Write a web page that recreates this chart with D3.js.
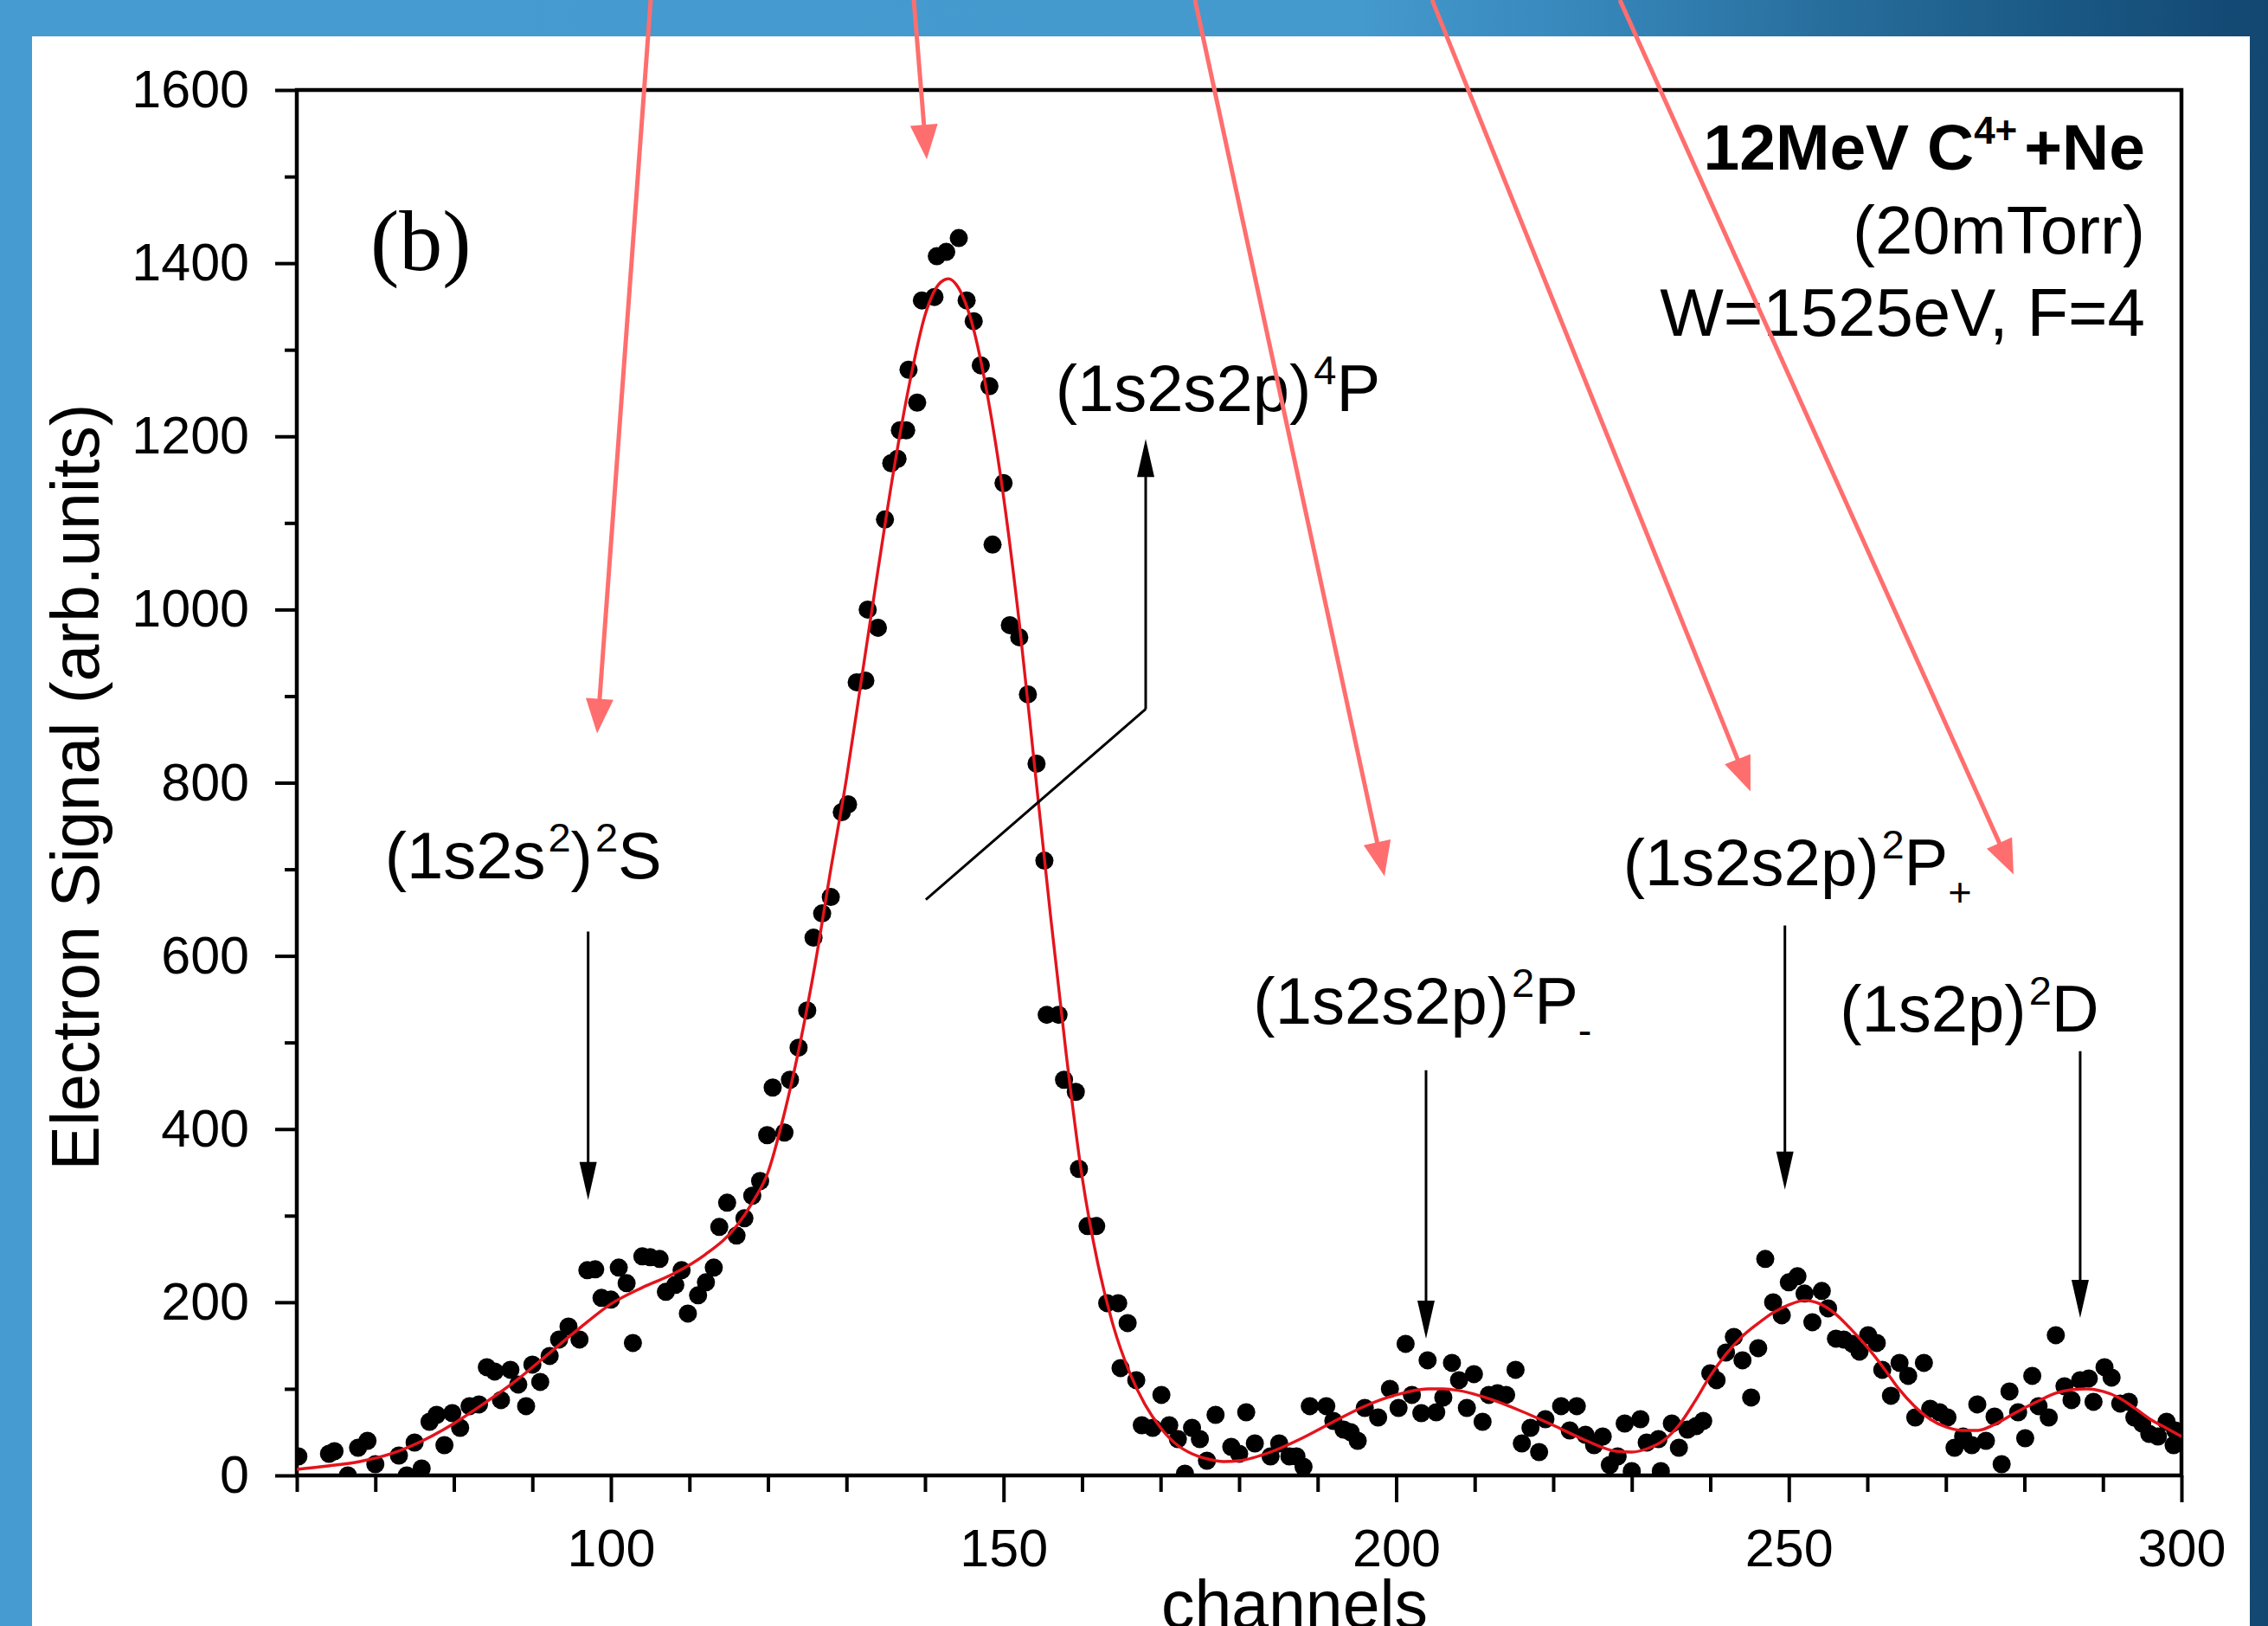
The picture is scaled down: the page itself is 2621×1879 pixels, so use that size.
<!DOCTYPE html>
<html>
<head>
<meta charset="utf-8">
<title>12MeV C4+ + Ne electron spectrum</title>
<script src="https://d3js.org/d3.v7.min.js"></script>
<style>
  html, body { margin: 0; padding: 0; background: #fff; }
  svg { display: block; }
  text { font-family: "Liberation Sans", Arial, sans-serif; fill: #000; }
</style>
</head>
<body>
<div id="chart"></div>
<script>
// measured points (channel, electron signal)
var channels = [60.2, 64.1, 64.8, 66.5, 67.8, 69.0, 70.0, 73.0, 74.0, 75.0, 75.9, 76.9, 77.8, 78.8, 79.8, 80.8,
  82.0, 83.2, 84.2, 85.2, 86.0, 87.2, 88.2, 89.2, 90.0, 91.0, 92.2, 93.4, 94.6, 96.0, 97.0, 98.0, 98.8, 100.0,
  101.0, 102.0, 102.8, 104.0, 105.0, 106.2, 107.0, 108.2, 109.0, 109.8, 111.1, 112.1, 113.1, 113.8, 114.8,
  116.0, 117.0, 118.0, 119.0, 119.9, 120.6, 122.1, 122.8, 123.9, 125.0, 125.8, 126.9, 128.0, 129.4, 130.2,
  131.3, 132.4, 132.7, 134.0, 134.9, 135.7, 136.5, 136.8, 137.6, 137.9, 139.0, 139.6, 141.2, 141.5, 142.7,
  144.3, 145.3, 146.2, 147.1, 148.2, 148.6, 150.0, 150.8, 152.0, 153.1, 154.2, 155.2, 155.5, 157.0, 157.7,
  159.2, 159.6, 160.7, 161.8, 163.2, 164.6, 164.9, 165.8, 166.9, 167.6, 169.0, 170.1, 171.1, 172.2, 173.1,
  174.0, 175.0, 175.9, 177.0, 179.0, 180.0, 180.9, 182.0, 184.0, 185.1, 186.4, 187.3, 188.2, 189.0, 191.1,
  192.0, 193.3, 194.2, 195.1, 196.0, 197.7, 199.2, 200.3, 201.2, 202.0, 203.2, 204.0, 205.1, 206.0, 207.1,
  208.0, 209.0, 209.9, 211.0, 211.8, 212.9, 214.0, 215.2, 216.0, 217.1, 218.2, 219.0, 221.0, 222.1, 223.0,
  224.1, 225.2, 226.3, 227.2, 228.2, 229.1, 230.0, 231.1, 231.9, 233.4, 233.7, 235.1, 236.0, 237.1, 238.2,
  239.1, 240.0, 240.8, 242.0, 243.0, 244.1, 245.2, 246.1, 247.0, 248.0, 249.1, 250.0, 251.1, 252.0, 253.0,
  254.2, 255.0, 256.0, 257.0, 258.1, 259.0, 260.1, 261.2, 261.9, 263.0, 264.1, 265.2, 266.1, 267.2, 268.0,
  269.2, 270.2, 271.1, 272.2, 273.3, 274.0, 275.1, 276.2, 277.1, 278.1, 279.2, 280.1, 281.0, 281.8, 283.1,
  284.0, 285.1, 286.0, 287.1, 288.2, 288.8, 290.2, 291.1, 292.2, 293.3, 294.0, 295.0, 295.9, 297.0, 298.1,
  299.0, 299.2];
var signal = [22, 25, 28, 0, 32, 40, 13, 23, 0, 38, 8, 62, 70, 35, 72, 55,
  80, 82, 125, 120, 87, 122, 105, 80, 128, 108, 138, 157, 172, 157, 237, 238, 205, 203,
  240, 222, 153, 253, 252, 250, 212, 220, 237, 187, 208, 223, 240, 287, 315,
  277, 297, 323, 340, 393, 448, 396, 457, 494, 537, 621, 649, 668, 766, 775,
  916, 918, 1000, 979, 1104, 1169, 1174, 1207, 1207, 1277, 1239, 1357, 1361, 1408, 1413,
  1429, 1357, 1333, 1282, 1258, 1075, 1146, 982, 968, 902, 822, 710, 532, 532, 457,
  443, 354, 288, 288, 199, 199, 124, 176, 110, 58, 55, 93, 58, 42, 2,
  55, 42, 17, 70, 33, 25, 73, 37, 22, 37, 22, 22, 10, 80, 80,
  63, 53, 50, 40, 78, 67, 100, 78, 152, 93, 72, 133, 73, 90, 130,
  110, 78, 117, 62, 93, 95, 93, 122, 37, 55, 27, 65, 80, 52, 80,
  47, 35, 45, 12, 22, 60, 5, 65, 38, 42, 5, 60, 32, 53, 57,
  63, 118, 110, 142, 160, 133, 90, 147, 250, 200, 185, 223, 230, 210, 177,
  213, 193, 158, 157, 152, 143, 162, 153, 122, 92, 130, 115, 67, 130, 77,
  73, 67, 32, 45, 35, 82, 40, 68, 13, 97, 73, 43, 115, 80, 67,
  162, 103, 87, 110, 112, 85, 125, 113, 83, 85, 67, 60, 48, 45, 62,
  35, 52];

// fitted curve
var fitChannels = [60, 64, 68, 72, 76, 80, 84, 88, 92, 96, 100, 104, 108, 112, 116, 118, 120, 122, 124, 126,
  128, 130, 132, 134, 136, 138, 140, 142, 143, 144, 146, 148, 150, 152, 154, 156, 158, 160, 162, 164, 166,
  168, 170, 172, 174, 176, 178, 180, 184, 188, 192, 196, 200, 204, 206, 208, 212, 216, 220, 224, 228, 230,
  232, 234, 236, 238, 240, 242, 244, 246, 248, 250, 252, 254, 256, 258, 260, 262, 264, 266, 268, 270, 272,
  274, 276, 278, 280, 282, 284, 286, 288, 290, 292, 294, 296, 298, 300];
var fitSignal = [7, 11, 16, 25, 40, 60, 84, 110, 140, 170, 198, 217, 233, 255, 288, 315, 350, 415, 495, 590,
  700, 805, 925, 1045, 1160, 1260, 1340, 1378, 1382, 1375, 1330, 1245, 1130, 985, 815, 645, 485, 345, 245, 172, 120,
  82, 55, 36, 25, 19, 16, 17, 27, 43, 62, 80, 93, 100, 100, 98, 88, 74, 58, 41, 28, 27,
  31, 40, 58, 85, 115, 140, 160, 175, 188, 197, 202, 198, 186, 168, 148, 125, 100, 80, 65, 56, 52,
  52, 58, 68, 78, 87, 95, 99, 100, 97, 90, 78, 65, 55, 45];

var xMajorTicks = [100, 150, 200, 250, 300];
var xMinorTicks = [60, 70, 80, 90, 110, 120, 130, 140, 160, 170, 180, 190, 210, 220, 230, 240, 260, 270, 280, 290];
var yMajorTicks = [0, 200, 400, 600, 800, 1000, 1200, 1400, 1600];
var yMinorTicks = [100, 300, 500, 700, 900, 1100, 1300, 1500];

// state labels: text pieces ("sup"/"sub" = raised / lowered), anchor in data units
var labelParts = [
  [["(1s2s"], ["2", "sup"], [")"], ["2", "sup"], ["S"]],
  [["(1s2s2p)"], ["4", "sup"], ["P"]],
  [["(1s2s2p)"], ["2", "sup"], ["P"], ["-", "sub"]],
  [["(1s2s2p)"], ["2", "sup"], ["P"], ["+", "sub"]],
  [["(1s2p)"], ["2", "sup"], ["D"]]
];
var labelChannel = [71.2, 156.6, 181.8, 228.9, 256.5];
var labelValue = [690, 1229, 522, 682, 513];

// black arrows: channel, start value, tip value
var arrowChannel = [97.1, 168.1, 203.8, 249.5, 287.1];
var arrowFrom = [628, 885, 468, 635, 490];
var arrowTo = [318, 1197, 158, 330, 182];
// leader from the (1s2s2p)4P arrow to the main peak
var leaderFrom = [168.1, 885];
var leaderTo = [140.1, 665];

// red overlay arrows (from above the frame down to the peaks)
var redFromCh = [105.07, 138.57, 174.38, 204.57, 228.48];
var redFromVal = [1704, 1704, 1704, 1704, 1704];
var redToCh = [98.24, 140.22, 198.51, 245.12, 278.62];
var redToVal = [857, 1520, 692, 790, 694];

var infoLines = ["(20mTorr)", "W=1525eV, F=4"];

var W = 2621, H = 1879;
var plot = { left: 343, right: 2521, top: 104, bottom: 1705 };

var x = d3.scaleLinear().domain([60, 300]).range([plot.left, plot.right]);
var y = d3.scaleLinear().domain([0, 1600]).range([plot.bottom, plot.top]);

var svg = d3.select("#chart").append("svg")
    .attr("width", W)
    .attr("height", H);

var defs = svg.append("defs");
var grad = defs.append("linearGradient")
    .attr("id", "bg")
    .attr("x1", "0").attr("x2", "1").attr("y1", "0").attr("y2", "0");
[["0", "#469bd0"], ["0.6", "#4499cd"], ["0.7", "#3787bb"], ["0.8", "#286f9e"], ["0.9", "#1b5a86"], ["1", "#124771"]]
  .forEach(function(s) {
    grad.append("stop").attr("offset", s[0]).attr("stop-color", s[1]);
  });

defs.append("clipPath").attr("id", "plotClip")
  .append("rect")
    .attr("x", plot.left).attr("y", plot.top)
    .attr("width", plot.right - plot.left)
    .attr("height", plot.bottom - plot.top);

// slide background and white panel
svg.append("rect").attr("width", W).attr("height", H).attr("fill", "url(#bg)");
svg.append("rect")
    .attr("x", 37).attr("y", 42)
    .attr("width", 2600 - 37).attr("height", H)
    .attr("fill", "#fff");

// axes
function styleAxis(g) {
  g.select(".domain").remove();
  g.selectAll(".tick line").attr("stroke", "#000").attr("stroke-width", 4);
  g.selectAll(".tick text").style("font-size", "61px").attr("fill", "#000");
}

svg.append("g")
    .attr("transform", "translate(0," + plot.bottom + ")")
    .call(d3.axisBottom(x).tickValues(xMinorTicks).tickSize(19).tickFormat(""))
    .call(styleAxis);
svg.append("g")
    .attr("transform", "translate(0," + plot.bottom + ")")
    .call(d3.axisBottom(x).tickValues(xMajorTicks).tickSize(31).tickPadding(31).tickFormat(d3.format("d")))
    .call(styleAxis);
svg.append("g")
    .attr("transform", "translate(" + plot.left + ",0)")
    .call(d3.axisLeft(y).tickValues(yMinorTicks).tickSize(14).tickFormat(""))
    .call(styleAxis);
svg.append("g")
    .attr("transform", "translate(" + plot.left + ",0)")
    .call(d3.axisLeft(y).tickValues(yMajorTicks).tickSize(25).tickPadding(30).tickFormat(d3.format("d")))
    .call(styleAxis);

// frame
svg.append("rect")
    .attr("x", plot.left).attr("y", plot.top)
    .attr("width", plot.right - plot.left)
    .attr("height", plot.bottom - plot.top)
    .attr("fill", "none")
    .attr("stroke", "#000")
    .attr("stroke-width", 4.5);

// axis titles
svg.append("text")
    .attr("x", 1496).attr("y", 1881)
    .attr("text-anchor", "middle")
    .style("font-size", "77px")
    .text("channels");
svg.append("text")
    .attr("transform", "translate(114," + y(795) + ") rotate(-90)")
    .attr("text-anchor", "middle")
    .style("font-size", "77px")
    .text("Electron Signal (arb.units)");

// data
var dataG = svg.append("g").attr("clip-path", "url(#plotClip)");
var points = channels.map(function(c, i) { return { c: c, v: signal[i] }; });
var fit = fitChannels.map(function(c, i) { return { c: c, v: fitSignal[i] }; });

dataG.selectAll("circle")
  .data(points)
  .enter().append("circle")
    .attr("cx", function(d) { return x(d.c); })
    .attr("cy", function(d) { return y(d.v); })
    .attr("r", 10.5)
    .attr("fill", "#000");

var line = d3.line()
    .x(function(d) { return x(d.c); })
    .y(function(d) { return y(d.v); })
    .curve(d3.curveMonotoneX);

dataG.append("path")
    .datum(fit)
    .attr("d", line)
    .attr("fill", "none")
    .attr("stroke", "#e3141c")
    .attr("stroke-width", 3.4);

// arrowhead helper: triangle with its tip at (x2,y2)
function headPoints(x1, y1, x2, y2, len, wid) {
  var dx = x2 - x1, dy = y2 - y1, L = Math.sqrt(dx * dx + dy * dy);
  var ux = dx / L, uy = dy / L;
  var bx = x2 - ux * len, by = y2 - uy * len;
  var nx = -uy * wid / 2, ny = ux * wid / 2;
  return [[x2, y2], [bx + nx, by + ny], [bx - nx, by - ny]].map(function(p) { return p.join(","); }).join(" ");
}

function drawArrow(g, x1, y1, x2, y2, color, width, len, wid) {
  var dx = x2 - x1, dy = y2 - y1, L = Math.sqrt(dx * dx + dy * dy);
  g.append("line")
      .attr("x1", x1).attr("y1", y1)
      .attr("x2", x2 - dx / L * len * 0.8).attr("y2", y2 - dy / L * len * 0.8)
      .attr("stroke", color).attr("stroke-width", width);
  g.append("polygon")
      .attr("points", headPoints(x1, y1, x2, y2, len, wid))
      .attr("fill", color);
}

var annG = svg.append("g");
arrowChannel.forEach(function(c, i) {
  drawArrow(annG, x(c), y(arrowFrom[i]), x(c), y(arrowTo[i]), "#000", 3, 44, 20);
});
annG.append("line")
    .attr("x1", x(leaderFrom[0])).attr("y1", y(leaderFrom[1]))
    .attr("x2", x(leaderTo[0])).attr("y2", y(leaderTo[1]))
    .attr("stroke", "#000").attr("stroke-width", 3);

// state labels
labelParts.forEach(function(parts, i) {
  var t = annG.append("text")
      .attr("x", x(labelChannel[i]))
      .attr("y", y(labelValue[i]))
      .style("font-size", "76px");
  var shift = 0;
  parts.forEach(function(p) {
    var target = p[1] === "sup" ? -31 : (p[1] === "sub" ? 24 : 0);
    var span = t.append("tspan").attr("dy", target - shift).text(p[0]);
    if (p[1]) span.style("font-size", "47px");
    if (p[1] === "sup") span.attr("dx", 3);
    shift = target;
  });
});

// panel letter
annG.append("text")
    .attr("x", 428).attr("y", 312)
    .style("font-family", "'Liberation Serif', 'Times New Roman', serif")
    .style("font-size", "100px")
    .text("(b)");

// run conditions, top right
var head = annG.append("text")
    .attr("x", 2479).attr("y", 196)
    .attr("text-anchor", "end")
    .style("font-size", "75px")
    .style("font-weight", "bold");
head.append("tspan").text("12MeV C");
head.append("tspan").attr("dy", -30).style("font-size", "44px").text("4+");
head.append("tspan").attr("dy", 30).attr("dx", 8).text("+Ne");

infoLines.forEach(function(s, i) {
  annG.append("text")
      .attr("x", 2479).attr("y", 293 + i * 95)
      .attr("text-anchor", "end")
      .style("font-size", "78px")
      .text(s);
});

// red overlay arrows
var redG = svg.append("g");
redFromCh.forEach(function(c, i) {
  drawArrow(redG, x(c), y(redFromVal[i]), x(redToCh[i]), y(redToVal[i]), "#ff6e6e", 5, 40, 32);
});
</script>
</body>
</html>
